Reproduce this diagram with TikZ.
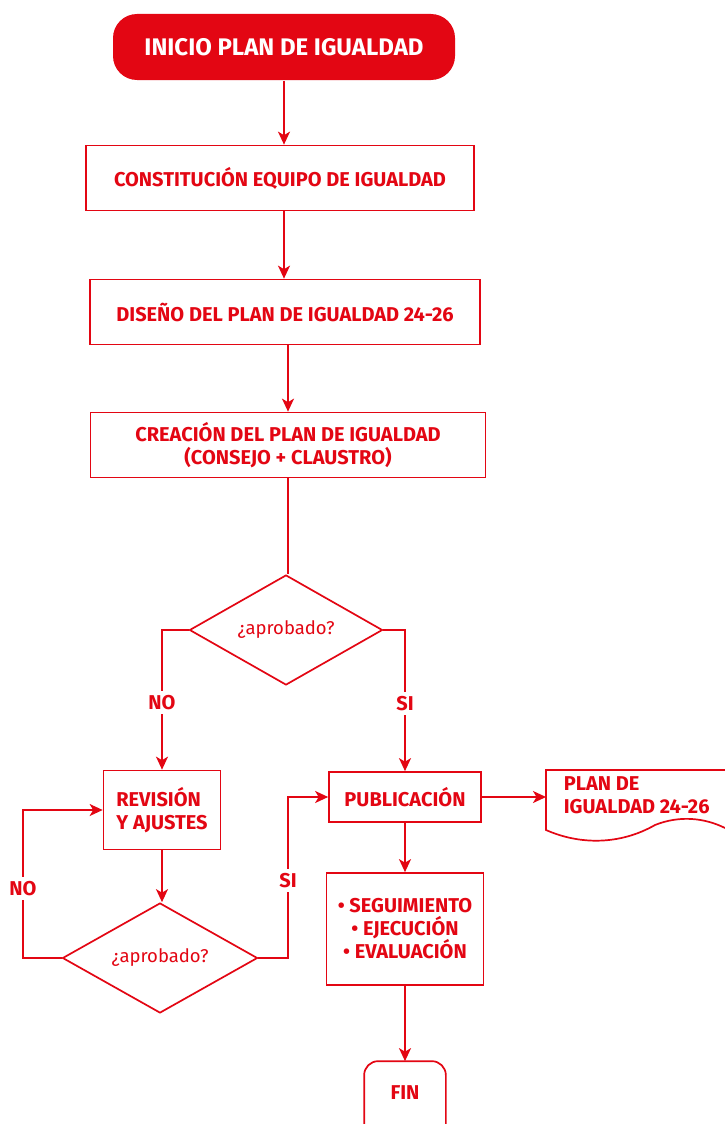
\documentclass[tikz,border=0pt]{standalone}
\usepackage{fontspec}
\setmainfont{Fira Sans}
\usetikzlibrary{shapes.geometric,arrows.meta}
\definecolor{rojo}{HTML}{E30613}
\begin{document}
\begin{tikzpicture}[x=1pt,y=-1pt,
  line width=1.7pt,
  every node/.style={text=rojo,font=\fontsize{20}{23}\selectfont\bfseries},
  caja/.style={draw=rojo,rectangle,inner sep=0pt,align=center},
  rombo/.style={draw=rojo,diamond,inner sep=0pt,minimum width=193pt,minimum height=110pt,aspect=1.75,font=\fontsize{18.5}{22}\selectfont\mdseries},
  flecha/.style={draw=rojo,-{Stealth[length=13pt,width=12pt,inset=3.5pt]}},
  linea/.style={draw=rojo},
  etiq/.style={fill=white,inner sep=4pt}]
\useasboundingbox (0,0) rectangle (725,1124);
\fill[white] (0,0) rectangle (725,1124);

\node[fill=rojo,rounded corners=24pt,minimum width=342pt,minimum height=66pt,inner sep=0pt,text=white,font=\fontsize{24}{28}\selectfont\bfseries] (ini) at (284,47) {INICIO PLAN DE IGUALDAD};
\node[caja,minimum width=388pt,minimum height=65pt] (b1) at (280,178) {CONSTITUCIÓN EQUIPO DE IGUALDAD};
\node[caja,minimum width=390pt,minimum height=65pt] (b2) at (285,312) {DISEÑO DEL PLAN DE IGUALDAD 24-26};
\node[caja,minimum width=395pt,minimum height=65pt] (b3) at (288,445) {CREACIÓN DEL PLAN DE IGUALDAD\\(CONSEJO + CLAUSTRO)};
\node[rombo] (d1) at (286,630) {¿aprobado?};
\node[caja,minimum width=117pt,minimum height=79pt,align=left] (rev) at (162,810) {REVISIÓN\\Y AJUSTES};
\node[rombo,minimum width=195pt,minimum height=110pt] (d2) at (160,958) {¿aprobado?};
\node[caja,minimum width=152pt,minimum height=50pt] (pub) at (405,797) {PUBLICACIÓN};
\node[caja,minimum width=157pt,minimum height=112pt] (seg) at (405,929) {• SEGUIMIENTO\\• EJECUCIÓN\\• EVALUACIÓN};
\node[inner sep=0pt,minimum width=80pt,minimum height=62pt] (fin) at (405,1093) {FIN};
\node[inner sep=0pt,align=left,anchor=north west] (doc) at (563,776) {PLAN DE\\IGUALDAD 24-26};
\coordinate (docw) at (546,797);

% FIN shape (open at bottom)
\draw[rojo,rounded corners=14pt] (fin.south west) -- (fin.north west) -- (fin.north east) -- (fin.south east);
% document shape
\draw[rojo] (725,770) -- (546,770) -- (546,830) .. controls (580,845) and (620,845) .. (655,825) .. controls (680,815) and (705,818) .. (725,828);

% connectors
\draw[flecha] (ini) -- (ini |- b1.north);
\draw[flecha] (b1.south -| ini) -- (ini |- b2.north);
\draw[flecha] (b2.south -| b3) -- (b3.north);
\draw[linea] (b3.south) -- (b3.south |- d1.north);
\draw[flecha] (d1.west) -| node[etiq,pos=0.76] {NO} (rev.north);
\draw[flecha] (d1.east) -| node[etiq,pos=0.76] {SI} (pub.north);
\draw[flecha] (rev.south) -- (rev.south |- d2.north);
\draw[flecha] (d2.west) -- (23,958) -- node[etiq,pos=0.47] {NO} (23,810) -- (rev.west);
\draw[flecha] (d2.east) -- (288,958) -- node[etiq,pos=0.48] {SI} (288,797) -- (pub.west);
\draw[flecha] (pub.east) -- (docw);
\draw[flecha] (pub.south) -- (seg.north);
\draw[flecha] (seg.south) -- (fin.north);
\end{tikzpicture}
\end{document}
